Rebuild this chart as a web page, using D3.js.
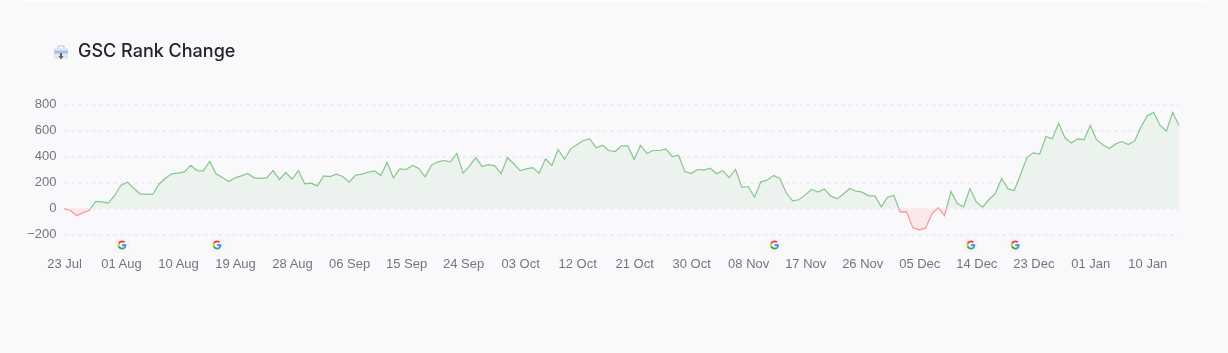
<!DOCTYPE html>
<html lang="en">
  <head>
    <meta charset="UTF-8" />
    <title>GSC Rank Change</title>
    <style>
      html,
      body {
        margin: 0;
        padding: 0;
        background: #f9f9fc;
      }
      svg {
        display: block;
        font-family: Inter, "Noto Sans", sans-serif;
      }
      .tick line {
        stroke: #dfe1f0;
        stroke-dasharray: 4 3;
      }
      .tick text {
        fill: #74747c;
        font-size: 13px;
      }
    </style>
  </head>
  <body>
    <div id="container"></div>
    <script src="https://cdnjs.cloudflare.com/ajax/libs/d3/7.8.5/d3.min.js"></script>
    <script>
      // values, one per day from 23 Jul
      let rankValues = [
        0, -15, -55, -33, -13, 54, 51, 41, 100, 180, 203, 156, 113, 110, 108, 187, 233, 267, 272, 282,
        333, 292, 290, 362, 267, 238, 208, 236, 251, 269, 236, 231, 236, 292, 223, 277, 226, 292, 190, 195,
        174, 251, 246, 264, 246, 203, 256, 264, 279, 290, 254, 354, 236, 305, 300, 331, 308, 244, 333, 359,
        369, 359, 423, 272, 326, 392, 323, 338, 328, 269, 392, 344, 292, 305, 315, 272, 382, 331, 454, 379,
        461, 492, 523, 536, 467, 487, 446, 438, 482, 482, 377, 485, 423, 446, 446, 459, 400, 410, 285, 269,
        300, 295, 310, 267, 290, 238, 300, 162, 169, 87, 205, 218, 254, 231, 121, 59, 67, 105, 146, 126,
        151, 97, 74, 110, 154, 133, 126, 97, 97, 13, 87, 100, -28, -26, -149, -164, -151, -41, 5, -56,
        131, 38, 13, 154, 51, 10, 69, 115, 231, 151, 138, 264, 392, 428, 418, 554, 536, 656, 544, 503,
        536, 528, 638, 528, 490, 462, 497, 515, 492, 520, 626, 713, 738, 641, 595, 738, 641
      ];
      let xTickLabels = [
        "23 Jul", "01 Aug", "10 Aug", "19 Aug", "28 Aug", "06 Sep", "15 Sep", "24 Sep", "03 Oct", "12 Oct",
        "21 Oct", "30 Oct", "08 Nov", "17 Nov", "26 Nov", "05 Dec", "14 Dec", "23 Dec", "01 Jan", "10 Jan"
      ];
      let yTicks = [-200, 0, 200, 400, 600, 800];
      let googleUpdates = ["01 Aug", "16 Aug", "12 Nov", "13 Dec", "20 Dec"];

      let width = 1228,
        height = 353,
        margin = { left: 64, top: 104.5, right: 49, bottom: 118.5 };

      let fmt = d3.utcFormat("%d %b");
      let days = d3.utcDay
        .range(new Date(Date.UTC(2023, 6, 23)), new Date(Date.UTC(2024, 0, 16)))
        .map(fmt);

      let x = d3.scalePoint().domain(days).range([margin.left, width - margin.right]);
      let y = d3.scaleLinear().domain([-200, 800]).range([height - margin.bottom, margin.top]);

      let svg = d3.select("#container").append("svg").attr("width", width).attr("height", height);

      // strip of the card above
      svg.append("rect").attr("x", 22).attr("y", 0).attr("width", 1183).attr("height", 2).attr("fill", "#fdfdfe");

      // title + icon
      let icon = svg.append("g").attr("transform", "translate(54,45)").attr("opacity", 0.8);
      icon.append("path").attr("d", "M4 3V1h6v2").attr("fill", "none").attr("stroke", "#b4b8c2").attr("stroke-width", 1.2);
      icon.append("rect").attr("x", 0).attr("y", 3).attr("width", 14).attr("height", 11).attr("rx", 1.5).attr("fill", "#dfe2e8");
      icon.append("rect").attr("x", 0).attr("y", 5.5).attr("width", 14).attr("height", 3).attr("fill", "#8cb8f0");
      icon.append("path").attr("d", "M6 8h2v3h1.5L7 14.5 4.5 11H6z").attr("fill", "#3c3f46");

      svg.append("text")
        .text("GSC Rank Change")
        .attr("x", 78)
        .attr("y", 57)
        .attr("font-size", 18)
        .attr("font-weight", 500)
        .attr("fill", "#24242a");

      // grid and y labels
      svg.append("g")
        .attr("transform", `translate(${margin.left},0)`)
        .call(d3.axisLeft(y).tickValues(yTicks).tickSize(-(width - margin.left - margin.right)).tickPadding(8).tickFormat(d3.format("d")))
        .call((g) => g.select(".domain").remove())
        .call((g) => g.selectAll("text").attr("dy", "0.2em").attr("dx", 0.5));

      // x labels
      svg.append("g")
        .attr("transform", "translate(0,257)")
        .call(d3.axisBottom(x).tickValues(xTickLabels).tickSize(0).tickPadding(2))
        .call((g) => g.select(".domain").remove());

      // split colours at zero
      let defs = svg.append("defs");
      defs.append("clipPath").attr("id", "above")
        .append("rect").attr("x", 0).attr("y", 0).attr("width", width).attr("height", y(0));
      defs.append("clipPath").attr("id", "below")
        .append("rect").attr("x", 0).attr("y", y(0)).attr("width", width).attr("height", height - y(0));

      let area = d3.area()
        .x((d, i) => x(days[i]))
        .y0(y(0))
        .y1((d) => y(d));
      let line = d3.line()
        .x((d, i) => x(days[i]))
        .y((d) => y(d));

      [["above", "#86c68a", "#ecf3ef"], ["below", "#ff9092", "#f9e8ea"]].forEach(([id, stroke, fill]) => {
        let g = svg.append("g").attr("clip-path", `url(#${id})`);
        g.append("path").attr("d", area(rankValues)).attr("fill", fill).style("mix-blend-mode", "multiply");
        g.append("path").attr("d", line(rankValues)).attr("fill", "none").attr("stroke", stroke).attr("stroke-width", 1.2);
      });

      // google update markers
      let marks = svg.append("g").selectAll("g").data(googleUpdates).join("g")
        .attr("transform", (d) => `translate(${x(d) + 1},245)`);
      marks.append("circle").attr("r", 8).attr("fill", "#f5f5f8");
      let gIcon = marks.append("g").attr("transform", "translate(-4.5,-4.5) scale(0.1875)");
      gIcon.append("path").attr("fill", "#EA4335").attr("d", "M24 9.5c3.5 0 6.7 1.2 9.2 3.6l6.9-6.9C35.9 2.4 30.5 0 24 0 14.6 0 6.5 5.4 2.6 13.2l8 6.2C12.5 13.7 17.8 9.5 24 9.5z");
      gIcon.append("path").attr("fill", "#4285F4").attr("d", "M46.98 24.55c0-1.57-.15-3.09-.38-4.55H24v9.02h12.94c-.58 2.96-2.26 5.48-4.78 7.18l7.73 6c4.51-4.18 7.09-10.36 7.09-17.65z");
      gIcon.append("path").attr("fill", "#FBBC05").attr("d", "M10.53 28.59c-.48-1.45-.76-2.99-.76-4.59s.27-3.14.76-4.59l-7.98-6.19C.92 16.46 0 20.12 0 24c0 3.88.92 7.54 2.56 10.78l7.97-6.19z");
      gIcon.append("path").attr("fill", "#34A853").attr("d", "M24 48c6.48 0 11.93-2.13 15.89-5.81l-7.73-6c-2.15 1.45-4.92 2.3-8.16 2.3-6.26 0-11.57-4.22-13.47-9.91l-7.98 6.19C6.51 42.62 14.62 48 24 48z");
    </script>
  </body>
</html>
